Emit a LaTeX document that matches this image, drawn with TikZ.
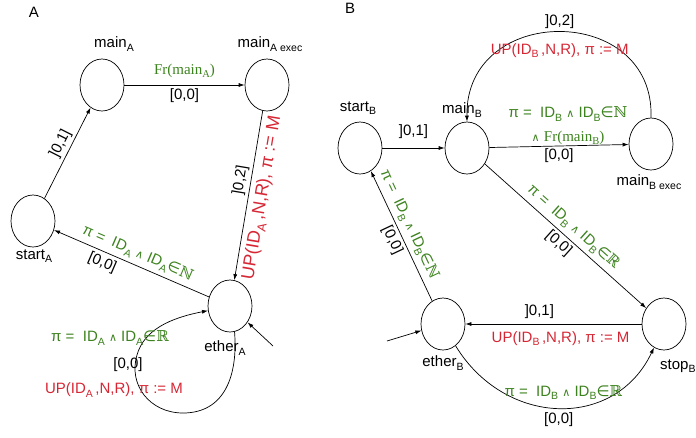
\documentclass[tikz,border=0pt]{standalone}
\usepackage{fontspec}
\setmainfont{Liberation Sans}
\newfontfamily\serifp{Liberation Serif}
\newfontfamily\symf{DejaVu Sans}
\newfontfamily\bbf{DejaVu Serif}
\usetikzlibrary{shapes.geometric,arrows.meta}
\definecolor{grn}{RGB}{60,130,30}
\definecolor{rd}{RGB}{214,38,52}
\newcommand\sbs[1]{\raisebox{-0.45ex}{\fontsize{10.5}{11}\selectfont #1}}
\newcommand\sbsbig[1]{\raisebox{-0.45ex}{\fontsize{12.5}{13}\selectfont #1}}
\newcommand\myand{{\symf\fontsize{11}{12}\selectfont ∧}}
\newcommand\myin{{\symf ∈}}
\newcommand\NN{{\bbf ℕ}}
\newcommand\RR{{\bbf ℝ}}
\newcommand\gtxt[2]{π =\ \ ID\sbs{#1} \myand{} ID\sbs{#1}\myin#2}
\newcommand\uptxt[1]{UP(ID\sbs{#1}\,,N,R), π := M}
\newcommand\uptxtbig[1]{UP(ID\sbsbig{#1}\,,N,R), π := M}
\begin{document}
\begin{tikzpicture}[x=1pt,y=-1pt,
  st/.style={draw,ellipse,minimum width=44pt,minimum height=52pt,inner sep=0pt,line width=0.7pt},
  lbl/.style={font=\fontsize{15}{17}\selectfont,inner sep=1pt},
  grl/.style={lbl,text=grn},
  rdl/.style={lbl,text=rd},
  rdbig/.style={rdl,font=\fontsize{18}{20}\selectfont},
  ed/.style={draw,line width=0.7pt,-{Latex[length=6pt,width=4pt]}}]
\useasboundingbox (0,0) rectangle (696,437);
% states
\node[st] (mA) at (102,85) {};
\node[st] (mAe) at (267,85) {};
\node[st] (sA) at (33,221) {};
\node[st] (eA) at (230,306) {};
\node[st] (sB) at (360,148) {};
\node[st] (mB) at (467,148) {};
\node[st] (mBe) at (651,144) {};
\node[st] (eB) at (443,324) {};
\node[st] (stB) at (664,324) {};
% titles and state names
\node[lbl] (tA) at (34,12) {A};
\node[lbl] (tB) at (350,8) {B};
\node[lbl] (lmA) at (114,44) {main\sbs{A}};
\node[lbl] (lmAe) at (270,44) {main\sbs{A exec}};
\node[lbl] (lsA) at (34,256) {start\sbs{A}};
\node[lbl] (leA) at (225,348) {ether\sbs{A}};
\node[lbl] (lsB) at (358,108) {start\sbs{B}};
\node[lbl] (lmB) at (462,110) {main\sbs{B}};
\node[lbl] (lmBe) at (649,182) {main\sbs{B exec}};
\node[lbl] (leB) at (443,363) {ether\sbs{B}};
\node[lbl,anchor=west] (lstB) at (659,366) {stop\sbs{B}};
% panel A edges
\draw[ed] (sA) -- (mA) node[lbl,pos=0.55,sloped,above=2pt] (e1) {]0,1]};
\draw[ed] (mA) -- (mAe)
  node[grl,midway,above=6pt] (e2) {\serifp Fr(main\sbs{A})}
  node[lbl,midway,below=2pt] (e3) {[0,0]};
\draw[ed] (mAe) -- (eA)
  node[lbl,pos=0.42,sloped,above=2pt] (e4) {]0,2]}
  node[rdbig,pos=0.5,sloped,below=4pt] (e5) {\uptxtbig{A}};
\draw[ed] (eA) -- (sA)
  node[grl,pos=0.49,sloped,above=3pt] (e6) {\gtxt{A}{\NN}}
  node[lbl,pos=0.66,sloped,below=3pt] (e7) {[0,0]};
\draw[ed] (eA.-80) .. controls (238,375) and (225,413) .. (183,413)
  .. controls (150,413) and (128,385) .. (137,355)
  .. controls (144,330) and (170,318) .. (eA.192);
\node[grl] (e8) at (110,338) {\gtxt{A}{\RR}};
\node[lbl] (e9) at (128,365) {[0,0]};
\node[rdl] (e10) at (114,390) {\uptxt{A}};
\coordinate (inA) at (273,346);
\draw[ed] (inA) -- (eA);
% panel B edges
\draw[ed] (sB) -- (mB) node[lbl,midway,above=8pt] (f1) {]0,1]};
\draw[ed] (mB) -- (mBe) node[lbl,midway,below=1pt] (f2) {[0,0]};
\node[grl] (f3) at (568,114) {\gtxt{B}{\NN}};
\node[grl] (f4) at (568,138) {\myand{} {\serifp Fr(main\sbs{B})}};
\draw[ed] (mBe.north) .. controls (655,3) and (465,3) .. (mB.north)
  node[lbl,pos=0.5,above=2pt] (f5) {]0,2]}
  node[rdl,pos=0.5,below=10pt] (f6) {\uptxt{B}};
\draw[ed] (mB) -- (stB)
  node[grl,midway,sloped,above=3pt] (f7) {\gtxt{B}{\RR}}
  node[lbl,midway,sloped,below=2pt] (f8) {[0,0]};
\draw[ed] (eB) -- (sB)
  node[grl,pos=0.55,sloped,above=3pt] (f9) {\gtxt{B}{\NN}}
  node[lbl,pos=0.5,sloped,below=2pt] (f10) {[0,0]};
\draw[ed] (stB) -- (eB)
  node[lbl,pos=0.58,above=4pt] (f11) {]0,1]}
  node[rdl,pos=0.46,below=6pt] (f12) {\uptxt{B}};
\draw[ed] (eB.-60) .. controls (505,427) and (615,430) .. (stB.-113)
  node[grl,pos=0.52,above=7pt] (f13) {\gtxt{B}{\RR}}
  node[lbl,pos=0.5,below=3pt] (f14) {[0,0]};
\coordinate (inB) at (387,341);
\draw[ed] (inB) -- (eB);
\end{tikzpicture}
\end{document}
